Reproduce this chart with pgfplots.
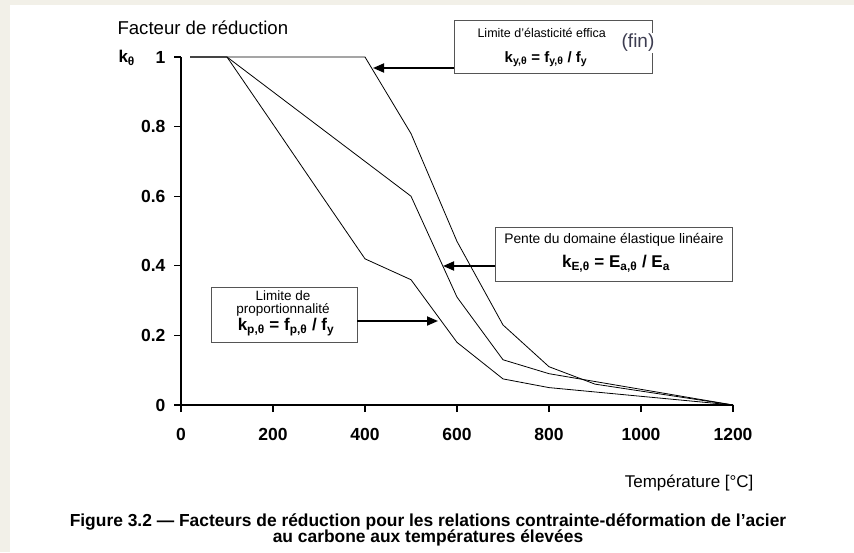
\documentclass[border=0pt]{standalone}
\usepackage{pgfplots}
\pgfplotsset{compat=1.18}
\usepackage{fontspec}
\setmainfont{Liberation Sans}
\usetikzlibrary{arrows.meta}
\definecolor{frame}{HTML}{F2F0E8}
\definecolor{boxgray}{HTML}{555555}
\definecolor{finblue}{HTML}{3C3C50}
\begin{document}
\begin{tikzpicture}
\path[use as bounding box] (0,0) rectangle (854pt,-552pt);
\fill[white] (0,0) rectangle (854pt,-552pt);
\fill[frame] (0,0) rectangle (854pt,-5pt);
\fill[frame] (0,0) rectangle (10pt,-552pt);
\begin{axis}[
  at={(181pt,-405pt)}, anchor=south west,
  scale only axis,
  width=552pt, height=348pt,
  xmin=0, xmax=1200, ymin=0, ymax=1,
  axis lines=left,
  axis line style={-, line width=1.3pt, black},
  tick style={line width=1.1pt, black},
  tick align=outside,
  major tick length=7pt,
  xtick={0,200,400,600,800,1000,1200},
  ytick={0,0.2,0.4,0.6,0.8,1},
  yticklabels={0,0.2,0.4,0.6,0.8,1},
  /pgf/number format/1000 sep={},
  /pgf/number format/assume math mode=true,
  tick label style={font=\fontsize{17.5}{17.5}\selectfont\bfseries},
  xticklabel style={yshift=-13pt},
  yticklabel style={xshift=-5pt},
  clip=false,
]
\addplot[black, line width=0.8pt] coordinates {
  (20,1) (100,1) (200,1) (300,1) (400,1) (500,0.78) (600,0.47) (700,0.23)
  (800,0.11) (900,0.06) (1000,0.04) (1100,0.02) (1200,0)
};
\addplot[black, line width=0.8pt] coordinates {
  (20,1) (100,1) (200,0.9) (300,0.8) (400,0.7) (500,0.6) (600,0.31) (700,0.13)
  (800,0.09) (900,0.0675) (1000,0.045) (1100,0.0225) (1200,0)
};
\addplot[black, line width=0.8pt] coordinates {
  (20,1) (100,1) (200,0.807) (300,0.613) (400,0.42) (500,0.36) (600,0.18) (700,0.075)
  (800,0.05) (900,0.0375) (1000,0.025) (1100,0.0125) (1200,0)
};
\end{axis}
\begin{scope}[x=1pt,y=-1pt]
% axis titles
\node[anchor=west, font=\fontsize{18.6}{18.6}\selectfont] at (114,28) {Facteur de réduction};
\node[anchor=west, font=\fontsize{17}{17}\selectfont\bfseries] at (115,58) {k\textsubscript{θ}};
\node[anchor=east, font=\fontsize{17}{17}\selectfont] at (757,483) {Température [°C]};
% box 1
\draw[boxgray, line width=0.9pt] (454,20) rectangle (652,73);
\node[anchor=west, font=\fontsize{12.5}{12.5}\selectfont] at (474,33) {Limite d'élasticité effica};
\node[font=\fontsize{19}{19}\selectfont, text=finblue, fill=white, inner sep=1pt] at (638,43) {(fin)};
\node[font=\fontsize{15}{15}\selectfont\bfseries] at (546,59) {k\textsubscript{y,θ} = f\textsubscript{y,θ} / f\textsubscript{y}};
\draw[line width=1.8pt, -{Triangle[length=11pt,width=9pt]}] (454,68) -- (373,68);
% box 2
\draw[boxgray, line width=0.9pt] (495,227) rectangle (732,281);
\node[font=\fontsize{13.8}{13.8}\selectfont] at (614,240) {Pente du domaine élastique linéaire};
\node[font=\fontsize{17}{17}\selectfont\bfseries] at (616,264) {k\textsubscript{E,θ} = E\textsubscript{a,θ} / E\textsubscript{a}};
\draw[line width=1.8pt, -{Triangle[length=11pt,width=9pt]}] (495,266) -- (443,266);
% box 3
\draw[boxgray, line width=0.9pt] (211,287) rectangle (357,342);
\node[align=center, inner sep=0pt, font=\fontsize{13.5}{13}\selectfont] at (283,304) {Limite de\\proportionnalité};
\node[font=\fontsize{17}{17}\selectfont\bfseries] at (286,327) {k\textsubscript{p,θ} = f\textsubscript{p,θ} / f\textsubscript{y}};
\draw[line width=1.8pt, -{Triangle[length=11pt,width=9pt]}] (357,321) -- (438,321);
% caption
\node[inner sep=0pt, font=\fontsize{17.4}{17.4}\selectfont\bfseries] at (428,522) {Figure 3.2 — Facteurs de réduction pour les relations contrainte-déformation de l’acier};
\node[inner sep=0pt, font=\fontsize{17.4}{17.4}\selectfont\bfseries] at (428,538) {au carbone aux températures élevées};
\end{scope}
\end{tikzpicture}
\end{document}
